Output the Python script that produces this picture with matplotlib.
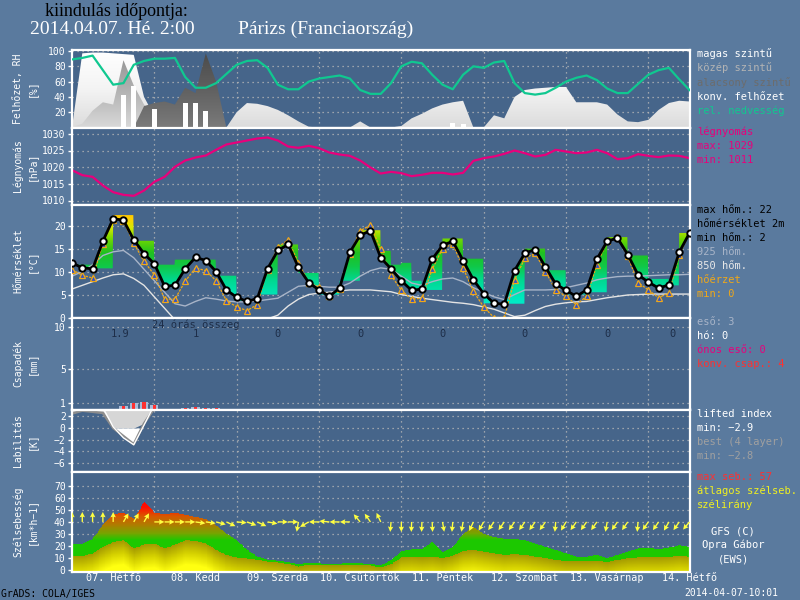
import numpy as np
import matplotlib
matplotlib.use("Agg")
import matplotlib.pyplot as plt
from matplotlib.colors import LinearSegmentedColormap
from matplotlib.path import Path

# ---------------- data (3-hourly, forecast hours 0..180) ----------------
hours = list(range(0, 181, 3))

cloud_high = [0, 97, 98, 98, 97, 96, 95, 40, 15, 0, 0, 0, 0, 0, 0, 0, 20, 32, 31, 28,
              23, 16, 8, 1, 0, 0, 0, 0, 8, 0, 0, 0, 2, 12, 18, 25, 30, 33, 35, 0,
              0, 16, 12, 40, 49, 51, 52, 53, 53, 33, 33, 33, 30, 17, 8, 7, 10, 23, 32, 35, 34]
cloud_mid = [0, 5, 22, 33, 30, 88, 55, 30, 15, 0, 0, 0, 0, 0, 0, 0, 0, 0, 0, 0,
             0, 0, 0, 0, 0, 0, 0, 0, 0, 0, 0, 0, 0, 0, 0, 0, 0, 0, 0, 0,
             0, 0, 0, 0, 0, 0, 0, 0, 0, 0, 0, 0, 0, 0, 0, 0, 0, 0, 0, 0, 0]
cloud_low = [0, 0, 0, 0, 0, 0, 0, 28, 32, 34, 30, 52, 45, 97, 60, 0, 0, 0, 0, 0,
             0, 0, 0, 0, 0, 0, 0, 0, 0, 0, 0, 0, 0, 0, 0, 0, 0, 0, 0, 0,
             0, 0, 0, 0, 0, 0, 0, 0, 0, 0, 0, 0, 0, 0, 0, 0, 0, 0, 0, 0, 0]
cloud_conv = [0, 0, 0, 0, 0, 42, 54, 0, 24, 0, 0, 32, 32, 22, 0, 0, 0, 0, 0, 0,
              0, 0, 0, 0, 0, 0, 0, 0, 0, 0, 0, 0, 0, 0, 0, 0, 0, 6, 4, 0,
              0, 0, 0, 0, 0, 0, 0, 0, 0, 0, 0, 0, 0, 0, 0, 0, 0, 0, 0, 0, 0]
rel_hum = [89, 91, 94, 75, 56, 58, 82, 87, 90, 90, 91, 66, 52, 52, 58, 70, 82, 87, 88, 78,
           56, 50, 50, 60, 64, 66, 68, 64, 49, 44, 44, 58, 80, 86, 84, 69, 56, 50, 69, 80,
           78, 85, 87, 58, 45, 43, 45, 52, 60, 65, 68, 62, 51, 45, 45, 57, 69, 75, 78, 63, 49]

pressure = [1019.1, 1017.6, 1017.1, 1014.5, 1012.5, 1011.7, 1011.4, 1013.0, 1015.6, 1017.1,
            1020.1, 1022.0, 1022.9, 1023.5, 1025.2, 1026.8, 1027.4, 1028.0, 1028.6, 1028.9,
            1028.0, 1026.2, 1025.8, 1026.4, 1025.7, 1024.4, 1023.8, 1023.4, 1022.0, 1019.9,
            1018.1, 1018.6, 1018.2, 1017.3, 1017.7, 1018.3, 1018.3, 1017.8, 1018.3, 1021.9,
            1022.7, 1023.2, 1024.0, 1025.0, 1024.2, 1023.2, 1023.7, 1025.2, 1024.7, 1024.2,
            1024.4, 1025.2, 1024.2, 1022.4, 1022.7, 1023.9, 1023.4, 1023.0, 1023.5, 1023.4, 1022.7]

temp_2m = [11.9, 10.8, 10.6, 16.6, 21.5, 21.2, 16.9, 13.9, 11.7, 6.8, 7.0, 10.6, 13.1, 12.4, 10.0,
           6.0, 4.4, 3.5, 4.1, 10.6, 14.6, 15.9, 10.9, 7.6, 6.0, 4.6, 6.4, 14.2, 17.9, 18.9,
           13.0, 10.6, 8.0, 5.9, 6.2, 12.7, 15.7, 16.6, 12.4, 8.2, 5.2, 3.1, 2.9, 10.2, 14.0,
           14.8, 11.0, 7.3, 5.9, 4.6, 6.0, 12.7, 16.6, 17.3, 13.7, 9.3, 7.7, 6.4, 7.1, 14.2, 18.4]
# 6-hourly extreme temperature (band edge), one value per 3 h interval
temp_ext = [11.5, 11.5, 10.7, 10.7, 22.3, 22.3, 16.7, 16.7, 11.5, 11.5, 12.6, 12.6, 12.6, 12.6, 9.1,
            9.1, 3.6, 3.6, 5.0, 5.0, 15.9, 15.9, 9.7, 9.7, 5.0, 5.0, 8.0, 8.0, 19.0, 19.0,
            14.5, 11.5, 11.9, 8.0, 6.0, 6.0, 17.2, 17.2, 12.8, 12.8, 3.1, 3.1, 3.0, 3.0, 15.0,
            15.0, 10.3, 10.3, 5.0, 5.0, 5.5, 5.5, 17.5, 17.5, 13.5, 13.5, 8.4, 8.4, 7.0, 18.4, 18.4]
temp_925 = [9.0, 10.0, 11.5, 13.5, 14.3, 14.6, 13.0, 10.5, 8.0, 5.5, 3.0, 2.5, 3.5, 4.3, 4.0,
            3.6, 3.4, 3.4, 3.6, 3.9, 4.2, 5.5, 6.8, 7.0, 6.8, 6.6, 6.6, 7.5, 9.0, 10.2,
            10.8, 10.5, 9.0, 7.5, 7.0, 7.8, 8.4, 8.6, 7.8, 6.5, 5.5, 4.5, 3.9, 5.0, 6.0,
            6.0, 6.0, 6.1, 6.5, 7.0, 7.5, 8.2, 8.6, 8.9, 9.0, 9.0, 9.1, 9.2, 9.3, 9.3, 9.4]
temp_850 = [6.2, 7.0, 7.8, 8.6, 9.3, 9.5, 8.5, 7.0, 4.5, 2.0, -0.5, -1.0, -1.5, -1.5, -1.0,
            -1.0, -0.5, -0.5, -0.5, -0.3, 0.5, 2.5, 4.0, 5.0, 5.3, 5.5, 5.8, 6.0, 6.0, 6.0,
            5.8, 5.6, 5.0, 4.6, 4.2, 3.9, 3.6, 3.3, 3.1, 2.8, 2.3, 1.8, 1.0, 0.2, 0.5,
            1.5, 2.4, 2.9, 3.2, 3.4, 3.5, 3.9, 4.3, 4.6, 4.9, 5.0, 5.1, 5.1, 5.1, 5.1, 5.1]
feels_like = [10.4, 9.2, 8.6, 16.1, 21.3, 21.0, 16.2, 12.2, 9.3, 4.0, 4.0, 7.9, 10.8, 10.2, 8.0,
              3.7, 2.3, 1.5, 2.8, 10.4, 15.3, 16.9, 11.9, 7.6, 6.6, 4.6, 6.1, 13.9, 18.9, 20.1,
              14.9, 9.2, 5.9, 4.0, 4.2, 10.5, 15.0, 16.0, 10.8, 5.7, 2.3, 0.0, 0.0, 8.2, 12.9,
              14.0, 10.0, 6.0, 4.6, 2.8, 4.6, 11.5, 16.6, 17.5, 13.3, 7.6, 6.0, 4.3, 5.4, 13.6, 18.5]

rain = [0, 0, 0, 0, 0, 0.6, 1.0, 1.05, 0.7, 0, 0, 0.37, 0.45, 0.37, 0.37] + [0] * 46
conv_precip = [0, 0, 0, 0, 0, 0.6, 1.0, 1.05, 0.7, 0, 0, 0.37, 0.45, 0.37, 0.37] + [0] * 46
daily_sum = ["1.9", "1", "0", "0", "0", "0", "0", "0"]

lifted = [4.0, 4.0, 4.0, 3.5, 0.2, -1.7, -2.9, 0.5, 4.0, 5.5, 6.0, 6.5, 7.0, 7.0, 7.5,
          8.0, 8.0, 8.0, 8.0, 8.0, 8.0, 8.0, 8.0, 8.0, 8.0, 8.0, 8.0, 8.0, 8.0, 8.0,
          8.0, 8.0, 8.0, 8.0, 8.0, 8.0, 8.0, 8.0, 8.0, 8.0, 8.0, 8.0, 8.0, 8.0, 8.0,
          8.0, 8.0, 8.0, 8.0, 8.0, 8.0, 8.0, 8.0, 8.0, 8.0, 8.0, 8.0, 8.0, 8.0, 8.0, 8.0]
best_li = [2.5, 3.0, 2.8, 2.6, 0.0, -1.4, -2.8, 0.8, 3.4, 5.0, 6.0, 6.5, 7.0, 7.0, 7.5,
           8.0, 8.0, 8.0, 8.0, 8.0, 8.0, 8.0, 8.0, 8.0, 8.0, 8.0, 8.0, 8.0, 8.0, 8.0,
           8.0, 8.0, 8.0, 8.0, 8.0, 8.0, 8.0, 8.0, 8.0, 8.0, 8.0, 8.0, 8.0, 8.0, 8.0,
           8.0, 8.0, 8.0, 8.0, 8.0, 8.0, 8.0, 8.0, 8.0, 8.0, 8.0, 8.0, 8.0, 8.0, 8.0, 8.0]

wind_max = [22.4, 22.4, 26.4, 38.5, 46.6, 48.0, 42.6, 57.0, 48.0, 46.6, 48.0, 46.0, 44.2, 42.6, 37.2,
            30.5, 25.0, 17.0, 11.6, 8.9, 8.1, 7.0, 5.4, 6.7, 6.2, 5.4, 5.9, 6.5, 6.2, 5.4,
            4.3, 8.9, 16.0, 17.8, 17.8, 23.8, 15.1, 19.6, 30.4, 35.8, 30.4, 27.7, 26.4, 26.4, 25.0,
            22.4, 19.6, 17.0, 14.3, 11.6, 11.6, 13.0, 10.3, 13.0, 15.7, 18.4, 18.9, 17.8, 18.9, 21.1, 19.7]
wind_mean = [12.1, 12.1, 14.3, 19.7, 23.7, 25.0, 18.3, 21.6, 22.4, 18.3, 21.6, 25.0, 24.5, 22.4, 17.0,
             12.9, 10.8, 10.0, 8.9, 7.5, 6.7, 5.4, 3.5, 4.8, 4.8, 4.3, 4.3, 4.8, 4.3, 4.3,
             2.7, 5.4, 10.9, 11.6, 10.8, 11.6, 10.3, 12.4, 16.2, 17.0, 15.7, 14.3, 13.0, 13.5, 13.0,
             11.6, 10.3, 8.9, 7.6, 7.6, 7.6, 8.1, 7.0, 8.9, 10.3, 10.8, 10.8, 10.8, 11.4, 12.4, 11.6]
# direction the arrow points to (degrees, counter-clockwise from east)
wind_to_dir = [90, 90, 90, 90, 90, 60, 60, 60, 0, 0, 0, 0, -8, -8, -15,
               -25, -5, -20, -25, -10, 0, 0, -100, -150, 180, 175, 180, 180, 130, 125,
               115, -95, -90, -92, -92, -88, -80, -95, -100, -115, -120, -125, -125, -125, -125,
               -125, -125, -95, -120, -125, -125, -125, -100, -125, -125, -95, -125, -125, -120, -125, -130]

day_names = ["07. Hétfő", "08. Kedd", "09. Szerda", "10. Csütörtök", "11. Péntek",
             "12. Szombat", "13. Vasárnap", "14. Hétfő"]

# ---------------- style ----------------
BG = "#5a7a9e"
INNER = "#46658a"
GRID = "#b8b8b8"
MONO = "DejaVu Sans Mono"
plt.rcParams["font.family"] = [MONO]

fig = plt.figure(figsize=(8, 6), dpi=100)
fig.patch.set_facecolor(BG)

L, R = 72 / 800, 689.5 / 800


def mk(top, bot):
    ax = fig.add_axes([L, 1 - bot / 600, R - L, (bot - top) / 600])
    ax.set_facecolor(INNER)
    for s in ax.spines.values():
        s.set_color("white")
        s.set_linewidth(1.6)
    ax.set_xlim(0, 180)
    ax.set_xticks(range(24, 180, 24))
    ax.tick_params(axis="x", length=0, labelbottom=False)
    ax.tick_params(axis="y", colors="white", labelsize=7, length=3, width=1, pad=1.5)
    ax.grid(True, color=GRID, linestyle=(0, (1, 3)), linewidth=0.9)
    ax.set_axisbelow(True)
    return ax


def grad_fill(ax, x, y1, y2, colors, vmin, vmax, z, step=None):
    coll = ax.fill_between(x, y1, y2, step=step, facecolor="none", edgecolor="none", linewidth=0)
    paths = coll.get_paths()
    coll.remove()
    if not paths:
        return
    path = Path.make_compound_path(*paths)
    cmap = LinearSegmentedColormap.from_list("g", colors)
    grad = np.linspace(0, 1, 256).reshape(-1, 1)
    im = ax.imshow(grad, cmap=cmap, aspect="auto", origin="lower",
                   extent=[x[0], x[-1], vmin, vmax], zorder=z, interpolation="bilinear")
    im.set_clip_path(path, transform=ax.transData)


h = np.array(hours, dtype=float)

# ---------------- cloud panel ----------------
ax1 = mk(49.5, 127.5)
grad_fill(ax1, h, 0, cloud_high, ["#dcdcdc", "#f4f4f4", "#ffffff"], 0, 100, 1)
grad_fill(ax1, h, 0, cloud_mid, ["#d8d8d8", "#b0b0b0", "#909090"], 0, 100, 2)
grad_fill(ax1, h, 0, cloud_low, ["#7a7a7a", "#606060", "#4a4a4a"], 0, 100, 3)
ax1.bar(h, cloud_conv, width=1.5, color="white", zorder=4)
ax1.plot(h, rel_hum, color="#10c890", lw=1.6, zorder=5)
ax1.set_ylim(0, 102)
ax1.set_yticks([20, 40, 60, 80, 100])

# ---------------- pressure panel ----------------
ax2 = mk(127.5, 204.5)
ax2.plot(h, pressure, color="#e8007c", lw=1.6)
ax2.set_ylim(1008.8, 1031.9)
ax2.set_yticks([1010, 1015, 1020, 1025, 1030])

# ---------------- temperature panel ----------------
ax3 = mk(204.5, 317.5)
tf = np.linspace(0, 180, 1441)
line_f = np.interp(tf, h, temp_2m)
idx = np.clip(np.searchsorted(h, tf, side="right") - 1, 0, len(h) - 1)
ext_f = np.array(temp_ext)[idx]
tcols = [(0, "#00f0d8"), (4 / 24.6, "#00e8c0"), (8 / 24.6, "#00d890"), (11 / 24.6, "#10c848"),
         (14 / 24.6, "#20c020"), (17 / 24.6, "#70d800"), (19.5 / 24.6, "#d8e800"),
         (21.5 / 24.6, "#ffd000"), (1, "#ffb000")]
grad_fill(ax3, tf, line_f, ext_f, tcols, 0, 24.6, 1)
ax3.plot(h, temp_850, color="#e4e4e4", lw=1.0, zorder=2)
ax3.plot(h, temp_925, color="#a8b4c8", lw=1.0, zorder=2)
ax3.plot(h, feels_like, color="#f0a818", lw=0.9, ls=(0, (2, 1)), marker="^", ms=3.8,
         mfc="#3050c8", mec="#f0a818", mew=0.9, zorder=3)
ax3.plot(h, temp_2m, color="black", lw=2.0, marker="o", ms=4.6, mfc="white", mec="black",
         mew=1.4, zorder=4)
ax3.set_ylim(0, 24.6)
ax3.set_yticks([0, 5, 10, 15, 20])

# ---------------- precipitation panel ----------------
ax4 = mk(317.5, 409.5)
ax4.bar(h, rain, width=2.4, color="#a8bcd8", zorder=2)
ax4.bar(h, conv_precip, width=0.9, color="#ff3030", zorder=3)
ax4.set_ylim(0.2, 11.15)
ax4.set_yticks([1, 5, 10])
ax4.text(0.13, 0.925, "24 órás összeg", transform=ax4.transAxes, color="#1e2e48",
         fontsize=7.5, va="center", ha="left")
sum_pos = [14, 36, 60, 84, 108, 132, 156, 175]
for xs, s in zip(sum_pos, daily_sum):
    ax4.text(xs, 9.15, s, color="#1e2e48", fontsize=7.5, ha="center", va="center")

# ---------------- lability panel ----------------
ax5 = mk(409.5, 472)
top = 3.2
bl = np.array(best_li)
lif = np.array(lifted)
ax5.fill_between(h, np.maximum(bl, 0), top, where=bl < top, interpolate=True,
                 color="#d6d6d6", lw=0, zorder=1)
ax5.fill_between(h, bl, 0, where=bl < 0, interpolate=True, color="white", lw=0, zorder=1)
ax5.plot(h, bl, color="#8c8c8c", lw=1.8, zorder=2)
ax5.plot(h, lif, color="white", lw=1.0, zorder=3)
ax5.set_ylim(-7.6, top)
ax5.set_yticks([-6, -4, -2, 0, 2])
ax5.set_yticklabels(["−6", "−4", "−2", "0", "2"])

# ---------------- wind panel ----------------
ax6 = mk(472, 571.5)
wt = np.linspace(0, 180, 721)
wv = np.linspace(-1, 81.3, 330)
mean_f = np.interp(wt, h, wind_mean)[None, :]
max_f = np.interp(wt, h, wind_max)[None, :]
V = wv[:, None] * np.ones_like(mean_f)
cm1 = LinearSegmentedColormap.from_list("m", ["#a49a00", "#d4d000", "#ffff10"])
cm2 = LinearSegmentedColormap.from_list("x", [(0, "#1cc800"), (25 / 60, "#1cc800"),
                                              (31 / 60, "#78a400"), (38 / 60, "#b07c00"),
                                              (45 / 60, "#d85800"), (52 / 60, "#ff1000"),
                                              (1, "#ff0000")])
c1 = cm1(np.clip((mean_f - V) / 20.0, 0, 1))
c2 = cm2(np.clip(V / 60.0, 0, 1))
rgba = np.zeros(V.shape + (4,))
m1 = (V >= 0) & (V <= mean_f)
m2 = (V > mean_f) & (V <= max_f)
rgba[m1] = c1[m1]
rgba[m2] = c2[m2]
ax6.imshow(rgba, origin="lower", extent=[0, 180, wv[0], wv[-1]], aspect="auto",
           interpolation="nearest", zorder=1)
ang = np.deg2rad(np.array(wind_to_dir, dtype=float))
ax6.quiver(h, np.full(len(h), 40.0), np.cos(ang), np.sin(ang), angles="uv",
           scale_units="dots", scale=0.1, pivot="tail", color="#ffff40", width=0.0022,
           headwidth=4, headlength=4, headaxislength=3.5, zorder=5)
ax6.set_xlim(0, 180)
ax6.set_ylim(-1, 81.3)
ax6.set_yticks([0, 10, 20, 30, 40, 50, 60, 70])
for k, name in enumerate(day_names):
    ax6.text(12 + 24 * k, -6.5, name, color="white", fontsize=7.3, ha="center", va="center",
             clip_on=False)

# ---------------- y labels ----------------
ylabels = [("Felhőzet, RH\n[%]", 88.5), ("Légnyomás\n[hPa]", 166), ("Hőmérséklet\n[°C]", 261),
           ("Csapadék\n[mm]", 363.5), ("Labilitás\n[K]", 440.75), ("Szélsebesség\n[km*h−1]", 521.75)]
for txt, yp in ylabels:
    fig.text(25 / 800, 1 - yp / 600, txt, rotation=90, color="white", fontsize=7,
             ha="center", va="center", multialignment="center", linespacing=1.45)

# ---------------- right legends ----------------
legend = [
    (54, "magas szintű", "white"), (68, "közép szintű", "#b4b4b4"),
    (83, "alacsony szintű", "#6c6c6c"), (97, "konv. felhőzet", "white"),
    (111, "rel. nedvesség", "#10c890"),
    (132, "légnyomás", "#e8007c"), (146, "max: 1029", "#e8007c"), (160, "min: 1011", "#e8007c"),
    (210, "max hőm.: 22", "black"), (224, "hőmérséklet 2m", "black"), (238, "min hőm.: 2", "black"),
    (252, "925 hőm.", "#a8b4c8"), (266, "850 hőm.", "#e8e8e8"), (280, "hőérzet", "#f0a818"),
    (294, "min: 0", "#f0a818"),
    (322, "eső: 3", "#a8b4c8"), (336, "hó: 0", "white"), (350, "ónos eső: 0", "#e8007c"),
    (364, "konv. csap.: 4", "#ff3030"),
    (414, "lifted index", "white"), (428, "min: −2.9", "white"),
    (442, "best (4 layer)", "#a0a0a0"), (456, "min: −2.8", "#a0a0a0"),
    (477, "max seb.: 57", "#ff3030"), (491, "átlagos szélseb.", "#f0f020"),
    (505, "szélirány", "#f0f020"),
]
for yp, txt, col in legend:
    fig.text(697 / 800, 1 - yp / 600, txt, color=col, fontsize=7.5, ha="left", va="center")
for yp, txt in [(531, "GFS (C)"), (545, "Opra Gábor"), (559, "(EWS)")]:
    fig.text(733 / 800, 1 - yp / 600, txt, color="white", fontsize=7.5, ha="center", va="center")

# ---------------- titles ----------------
fig.text(45 / 800, 1 - 11 / 600, "kiindulás időpontja:", color="black", fontsize=13,
         family="Liberation Serif", ha="left", va="center")
fig.text(30 / 800, 1 - 29 / 600, "2014.04.07. Hé. 2:00", color="white", fontsize=14,
         family="Liberation Serif", ha="left", va="center")
fig.text(238 / 800, 1 - 29 / 600, "Párizs (Franciaország)", color="white", fontsize=14,
         family="Liberation Serif", ha="left", va="center")
fig.text(1 / 800, 1 - 594 / 600, "GrADS: COLA/IGES", color="black", fontsize=7, ha="left",
         va="center")
fig.text(778 / 800, 1 - 593 / 600, "2014-04-07-10:01", color="white", fontsize=7, ha="right",
         va="center")

fig.savefig("out.png", dpi=100, facecolor=fig.get_facecolor())
